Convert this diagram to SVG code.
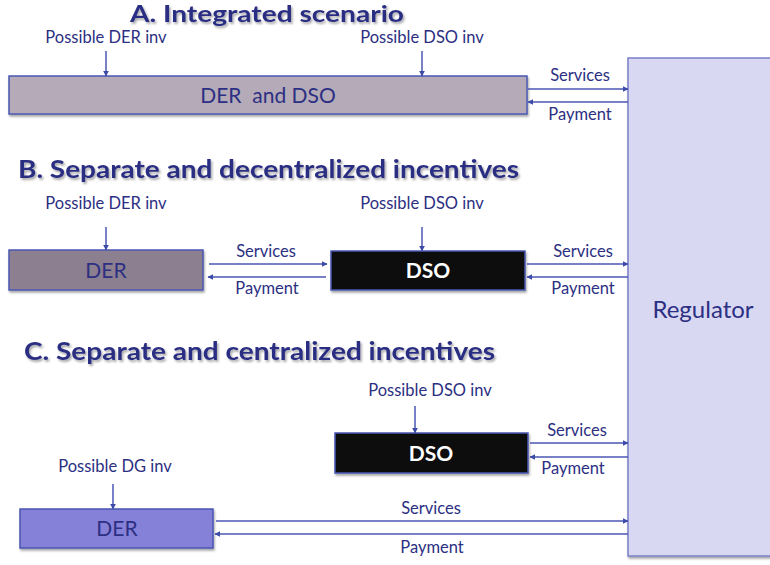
<svg xmlns="http://www.w3.org/2000/svg" width="770" height="565" viewBox="0 0 770 565">
<style>
text{font-family:Lato,"Open Sans","Liberation Sans",sans-serif;fill:#2c2f82}
.title{font-size:24px;font-weight:bold;filter:url(#tsh)}
.lbl{font-size:16.5px;text-anchor:middle}
.flow{font-size:16.5px;text-anchor:middle}
.box{stroke:#4b57b2;stroke-width:1.5;filter:url(#bsh)}
.big{font-size:21px;text-anchor:middle}
.wt{fill:#ffffff;font-weight:bold;font-size:21px;text-anchor:middle}
.ln{stroke:#4b57b2;stroke-width:1.5;fill:none;marker-end:url(#ah)}
</style>
<defs>
<marker id="ah" viewBox="0 0 10 10" refX="9" refY="5" markerWidth="6" markerHeight="6" markerUnits="userSpaceOnUse" orient="auto">
<path d="M0,0 L10,5 L0,10 z" fill="#3c4aa8"/>
</marker>
<filter id="tsh" x="-5%" y="-30%" width="110%" height="160%">
<feDropShadow dx="1.5" dy="2" stdDeviation="1.2" flood-color="#000" flood-opacity="0.35"/>
</filter>
<filter id="bsh" x="-5%" y="-10%" width="110%" height="130%">
<feDropShadow dx="1" dy="2" stdDeviation="1.2" flood-color="#000" flood-opacity="0.35"/>
</filter>
</defs>

<g id="regulator">
<rect class="box" x="628" y="58" width="150" height="498" fill="#d8d8f2" style="stroke:#7a80c8"/>
<text x="703" y="318" style="font-size:24px;text-anchor:middle">Regulator</text>
</g>

<g id="titles">
<text class="title" x="130" y="22" style="font-size:22px" textLength="274" lengthAdjust="spacingAndGlyphs">A. Integrated scenario</text>
<text class="title" x="18" y="178" textLength="501" lengthAdjust="spacingAndGlyphs">B. Separate and decentralized incentives</text>
<text class="title" x="24" y="360" textLength="471" lengthAdjust="spacingAndGlyphs">C. Separate and centralized incentives</text>
</g>

<g id="A-der-dso">
<rect class="box" x="9" y="76" width="518" height="38" fill="#b4aab8"/>
<text class="big" x="268" y="103" xml:space="preserve">DER  and DSO</text>
</g>

<g id="B-der">
<rect class="box" x="9" y="250" width="194" height="40" fill="#8c8090"/>
<text class="big" x="106" y="278">DER</text>
</g>
<g id="B-dso">
<rect class="box" x="331" y="251" width="194" height="39" fill="#0c0c10"/>
<text class="wt" x="428" y="278">DSO</text>
</g>

<g id="C-dso">
<rect class="box" x="335" y="433" width="193" height="40" fill="#0c0c10"/>
<text class="wt" x="431" y="461">DSO</text>
</g>
<g id="C-der">
<rect class="box" x="20" y="509" width="193" height="39" fill="#8580d8"/>
<text class="big" x="117" y="536">DER</text>
</g>

<g id="labels">
<text class="lbl" x="106" y="43">Possible DER inv</text>
<text class="lbl" x="422" y="43">Possible DSO inv</text>
<text class="lbl" x="106" y="209">Possible DER inv</text>
<text class="lbl" x="422" y="209">Possible DSO inv</text>
<text class="lbl" x="430" y="396">Possible DSO inv</text>
<text class="lbl" x="115" y="472">Possible DG inv</text>
<text class="flow" x="580" y="81">Services</text>
<text class="flow" x="580" y="120">Payment</text>
<text class="flow" x="266" y="257">Services</text>
<text class="flow" x="267" y="294">Payment</text>
<text class="flow" x="583" y="257">Services</text>
<text class="flow" x="583" y="294">Payment</text>
<text class="flow" x="577" y="436">Services</text>
<text class="flow" x="573" y="474">Payment</text>
<text class="flow" x="431" y="514">Services</text>
<text class="flow" x="432" y="553">Payment</text>
</g>

<g id="connectors">
<line class="ln" x1="106" y1="51" x2="106" y2="76"/>
<line class="ln" x1="422" y1="51" x2="422" y2="76"/>
<line class="ln" x1="528" y1="89" x2="628" y2="89"/>
<line class="ln" x1="628" y1="102" x2="528" y2="102"/>

<line class="ln" x1="106" y1="227" x2="106" y2="250"/>
<line class="ln" x1="422" y1="227" x2="422" y2="251"/>
<line class="ln" x1="209" y1="264" x2="327" y2="264"/>
<line class="ln" x1="326" y1="277" x2="208" y2="277"/>
<line class="ln" x1="527" y1="264" x2="628" y2="264"/>
<line class="ln" x1="628" y1="277" x2="527" y2="277"/>

<line class="ln" x1="415" y1="406" x2="415" y2="433"/>
<line class="ln" x1="530" y1="443" x2="628" y2="443"/>
<line class="ln" x1="628" y1="457" x2="530" y2="457"/>
<line class="ln" x1="113" y1="484" x2="113" y2="509"/>
<line class="ln" x1="216" y1="521" x2="628" y2="521"/>
<line class="ln" x1="628" y1="534" x2="215" y2="534"/>
</g>
</svg>
